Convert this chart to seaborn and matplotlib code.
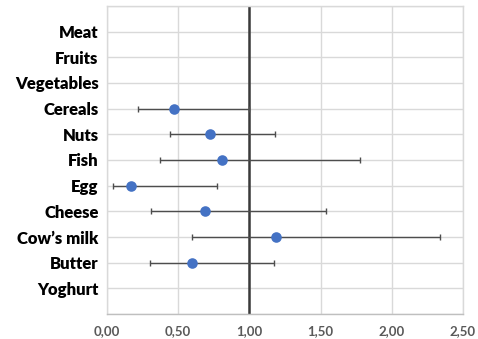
import numpy as np
import pandas as pd
import matplotlib
matplotlib.use("Agg")
import matplotlib.pyplot as plt
from matplotlib.ticker import FuncFormatter
import seaborn as sns

# Food groups (top to bottom) with point estimate and 95% CI
foods = ["Meat", "Fruits", "Vegetables", "Cereals", "Nuts", "Fish", "Egg",
         "Cheese", "Cow\u2019s milk", "Butter", "Yoghurt"]
estimate = [np.nan, np.nan, np.nan, 0.47, 0.72, 0.81, 0.17, 0.69, 1.19, 0.60, np.nan]
ci_low   = [np.nan, np.nan, np.nan, 0.22, 0.44, 0.37, 0.04, 0.31, 0.60, 0.30, np.nan]
ci_high  = [np.nan, np.nan, np.nan, 1.00, 1.18, 1.78, 0.77, 1.54, 2.34, 1.17, np.nan]
x_ticks = [0.0, 0.5, 1.0, 1.5, 2.0, 2.5]

df = pd.DataFrame({"food": foods, "est": estimate, "lo": ci_low, "hi": ci_high})
df["pos"] = np.arange(len(df))
dd = df.dropna()

sns.set_style("white")
plt.rcParams["font.family"] = ["Lato", "DejaVu Sans"]

fig = plt.figure(figsize=(4.78, 3.39), dpi=100)
ax = fig.add_axes([107 / 478, 1 - 314 / 339, (463 - 107) / 478, (314 - 6) / 339])

grid_c = "#d9d9d9"
# light Excel-style grid
for y in range(-1, len(foods) + 1):
    ax.axhline(y, color=grid_c, lw=1.0, zorder=0)
for x in x_ticks:
    ax.axvline(x, color=grid_c, lw=1.0, zorder=0)

# reference line at 1
ax.axvline(1.0, color="#3a3a3a", lw=1.8, zorder=1)

# confidence intervals
ax.errorbar(dd["est"], dd["pos"],
            xerr=[dd["est"] - dd["lo"], dd["hi"] - dd["est"]],
            fmt="none", ecolor="#4d4d4d", elinewidth=1.0, capsize=2.0,
            capthick=1.0, zorder=2)

sns.scatterplot(data=dd, x="est", y="pos", ax=ax, color="#4472C4",
                s=58, edgecolor="#4472C4", linewidth=0, zorder=3, legend=False)

ax.set_xlim(0, 2.5)
ax.set_ylim(len(foods), -1)
ax.set_xticks(x_ticks)
ax.xaxis.set_major_formatter(FuncFormatter(lambda v, p: f"{v:.2f}".replace(".", ",")))
ax.set_yticks(range(len(foods)))
ax.set_yticklabels(foods, fontsize=12, fontweight="heavy", color="black")
for lab in ax.get_xticklabels():
    lab.set_fontsize(9.5)
    lab.set_fontweight("bold")
    lab.set_color("#595959")
ax.tick_params(axis="both", length=0)
ax.tick_params(axis="x", pad=8)
ax.tick_params(axis="y", pad=6)
ax.set_xlabel("")
ax.set_ylabel("")
for s in ax.spines.values():
    s.set_color(grid_c)
    s.set_linewidth(1.0)
ax.spines["bottom"].set_color("#bfbfbf")

fig.savefig("out.png", dpi=100, facecolor="white")
